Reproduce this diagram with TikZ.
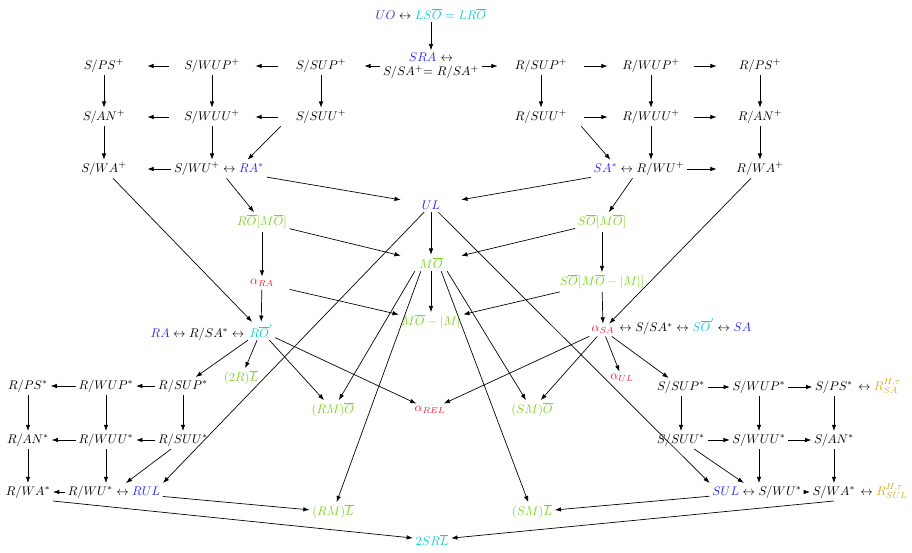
\documentclass[tikz,border=0pt]{standalone}
\usetikzlibrary{arrows.meta}
\definecolor{cB}{RGB}{40,40,240}
\definecolor{cC}{RGB}{20,205,210}
\definecolor{cG}{RGB}{125,210,35}
\definecolor{cR}{RGB}{235,30,60}
\definecolor{cY}{RGB}{215,175,30}
\begin{document}
\begin{tikzpicture}[x=0.8pt,y=-0.8pt,
  every node/.style={inner sep=2pt},
  ar/.style={-{Latex[length=5pt,width=3.6pt]}, line width=0.55pt},
  wide/.style={minimum width=69pt},
  mid/.style={minimum width=48pt}]
\useasboundingbox (0,0) rectangle (912,553);
% top
\node (top) at (431,14) {${\color{cB}UO} \leftrightarrow {\color{cC}LS\overline{O} = LR\overline{O}}$};
\node[align=center] (sra) at (431,66) {{\color{cB}$SRA$} $\leftrightarrow$\\[-0.5pt] $S/SA^+$= $R/SA^+$};
% top grid
\node[wide] (spsp) at (104,66) {$S/PS^+$};
\node[wide] (swupp) at (212,66) {$S/WUP^+$};
\node[wide] (ssupp) at (321,66) {$S/SUP^+$};
\node[wide] (rsupp) at (541,66) {$R/SUP^+$};
\node[wide] (rwupp) at (651,66) {$R/WUP^+$};
\node[wide] (rpsp) at (760,66) {$R/PS^+$};
\node[wide] (sanp) at (104,117) {$S/AN^+$};
\node[wide] (swuup) at (212,117) {$S/WUU^+$};
\node[wide] (ssuup) at (321,117) {$S/SUU^+$};
\node[wide] (rsuup) at (541,117) {$R/SUU^+$};
\node[wide] (rwuup) at (651,117) {$R/WUU^+$};
\node[wide] (ranp) at (760,117) {$R/AN^+$};
\node[wide] (swap) at (104,169) {$S/WA^+$};
\node[wide] (rwap) at (760,169) {$R/WA^+$};
\node (swup) at (219,169) {$S/WU^+ \leftrightarrow {\color{cB}RA^*}$};
\node (sa) at (639,169) {${\color{cB}SA^*} \leftrightarrow R/WU^+$};
% centre
\node[mid] (ul) at (431,205) {$\color{cB}UL$};
\node (romo) at (262,222) {$\color{cG}R\overline{O}[M\overline{O}]$};
\node (somo) at (602,222) {$\color{cG}S\overline{O}[M\overline{O}]$};
\node[mid] (mo) at (431,263) {$\color{cG}M\overline{O}$};
\node[minimum width=45pt] (ara) at (262,283) {$\color{cR}\alpha_{RA}$};
\node (sommm) at (602,282) {$\color{cG}S\overline{O}[M\overline{O}-|M|]$};
\node[mid] (momm) at (431,322) {$\color{cG}M\overline{O}-|M|$};
\node (ro) at (261,331) {$\color{cC}R\overline{O}'$};
\node[anchor=base east,inner xsep=0pt] (ral) at (ro.base west) {${\color{cB}RA} \leftrightarrow R/SA^* \leftrightarrow\,$};
\node (asa) at (603,330) {$\color{cR}\alpha_{SA}$};
\node[anchor=base west,inner xsep=0pt] (asar) at (asa.base east) {$\,\leftrightarrow S/SA^* \leftrightarrow {\color{cC}S\overline{O}'} \leftrightarrow {\color{cB}SA}$};
\node (r2l) at (241,378) {$\color{cG}(2R)\overline{L}$};
\node (rmo) at (333,410) {$\color{cG}(RM)\overline{O}$};
\node (arel) at (430,410) {$\color{cR}\alpha_{REL}$};
\node (smo) at (532,410) {$\color{cG}(SM)\overline{O}$};
\node (aul) at (622,378) {$\color{cR}\alpha_{UL}$};
\node (rml) at (333,512) {$\color{cG}(RM)\overline{L}$};
\node (sml) at (532,512) {$\color{cG}(SM)\overline{L}$};
\node (srl) at (432,540) {$\color{cC}2SR\overline{L}$};
% lower left grid
\node (rpss) at (28,386) {$R/PS^*$};
\node (rwups) at (106,386) {$R/WUP^*$};
\node (rsups) at (183,386) {$R/SUP^*$};
\node (rans) at (28,440) {$R/AN^*$};
\node (rwuus) at (106,440) {$R/WUU^*$};
\node (rsuus) at (183,440) {$R/SUU^*$};
\node (rwas) at (28,492) {$R/WA^*$};
\node (rwu) at (114,492) {$R/WU^* \leftrightarrow {\color{cB}RUL}$};
% lower right grid
\node (ssups) at (681,387) {$S/SUP^*$};
\node (swups) at (759,387) {$S/WUP^*$};
\node (spss) at (834,387) {$S/PS^*$};
\node[anchor=base west,inner xsep=0pt] (rhsa) at (spss.base east) {$\,\leftrightarrow {\color{cY}R^{H,\tau}_{SA}}$};
\node (ssuus) at (681,440) {$S/SUU^*$};
\node (swuus) at (759,440) {$S/WUU^*$};
\node (sans) at (834,440) {$S/AN^*$};
\node (sulc) at (757,492) {${\color{cB}SUL} \leftrightarrow S/WU^*$};
\node (swas) at (834,492) {$S/WA^*$};
\node[anchor=base west,inner xsep=0pt] (rhsul) at (swas.base east) {$\,\leftrightarrow {\color{cY}R^{H,\tau}_{SUL}}$};
% edges top
\draw[ar] (top) -- (sra);
\draw[ar] (sra) -- (ssupp);
\draw[ar] (sra) -- (rsupp);
\draw[ar] (ssupp) -- (swupp);
\draw[ar] (swupp) -- (spsp);
\draw[ar] (rsupp) -- (rwupp);
\draw[ar] (rwupp) -- (rpsp);
\draw[ar] (spsp) -- (sanp);
\draw[ar] (swupp) -- (swuup);
\draw[ar] (ssupp) -- (ssuup);
\draw[ar] (rsupp) -- (rsuup);
\draw[ar] (rwupp) -- (rwuup);
\draw[ar] (rpsp) -- (ranp);
\draw[ar] (ssuup) -- (swuup);
\draw[ar] (swuup) -- (sanp);
\draw[ar] (rsuup) -- (rwuup);
\draw[ar] (rwuup) -- (ranp);
\draw[ar] (sanp) -- (swap);
\draw[ar] (swuup) -- (swuup |- swup.north);
\draw[ar] (rwuup) -- (rwuup |- sa.north);
\draw[ar] (ranp) -- (rwap);
\draw[ar] (ssuup.193) -- (swup.18);
\draw[ar] (rsuup.347) -- (sa.162);
\draw[ar] (swup) -- (swap);
\draw[ar] (sa) -- (rwap);
% centre edges
\draw[ar] (swup) -- (ul);
\draw[ar] (sa) -- (ul);
\draw[ar] (swup) -- (romo);
\draw[ar] (sa) -- (somo);
\draw[ar] (swap) -- (ro);
\draw[ar] (rwap) -- (asa);
\draw[ar] (ul) -- (mo);
\draw[ar] (ul) -- (rwu.north east);
\draw[ar] (ul) -- (sulc.north west);
\draw[ar] (romo) -- (mo);
\draw[ar] (romo) -- (ara);
\draw[ar] (ara) -- (ro);
\draw[ar] (ara) -- (momm);
\draw[ar] (somo) -- (mo);
\draw[ar] (somo) -- (sommm);
\draw[ar] (sommm) -- (momm);
\draw[ar] (sommm) -- (asa);
\draw[ar] (mo) -- (momm);
\draw[ar] (mo.207) -- (rmo);
\draw[ar] (mo.219) -- (rml);
\draw[ar] (mo.333) -- (smo);
\draw[ar] (mo.321) -- (sml);
\draw[ar] (ro) -- (rsups);
\draw[ar] (ro) -- (r2l);
\draw[ar] (ro) -- (rmo);
\draw[ar] (ro) -- (arel);
\draw[ar] (asa) -- (arel);
\draw[ar] (asa) -- (smo);
\draw[ar] (asa) -- (aul);
\draw[ar] (asa) -- (ssups);
% lower left edges
\draw[ar] (rsups) -- (rwups);
\draw[ar] (rwups) -- (rpss);
\draw[ar] (rpss) -- (rans);
\draw[ar] (rwups) -- (rwuus);
\draw[ar] (rsups) -- (rsuus);
\draw[ar] (rsuus) -- (rwuus);
\draw[ar] (rwuus) -- (rans);
\draw[ar] (rans) -- (rwas);
\draw[ar] (rwuus) -- (rwuus |- rwu.north);
\draw[ar] (rsuus) -- (rwu);
\draw[ar] (rwu) -- (rwas);
\draw[ar] (rwu) -- (rml);
\draw[ar] (rwas.south east) -- (srl);
% lower right edges
\draw[ar] (ssups) -- (swups);
\draw[ar] (swups) -- (spss);
\draw[ar] (ssups) -- (ssuus);
\draw[ar] (swups) -- (swuus);
\draw[ar] (spss) -- (sans);
\draw[ar] (ssuus) -- (swuus);
\draw[ar] (swuus) -- (sans);
\draw[ar] (swuus) -- (swuus |- sulc.north);
\draw[ar] (sans) -- (swas);
\draw[ar] (ssuus) -- (sulc);
\draw[ar] (sulc) -- (swas);
\draw[ar] (sulc) -- (sml);
\draw[ar] (swas.south) -- (srl);
\end{tikzpicture}
\end{document}
